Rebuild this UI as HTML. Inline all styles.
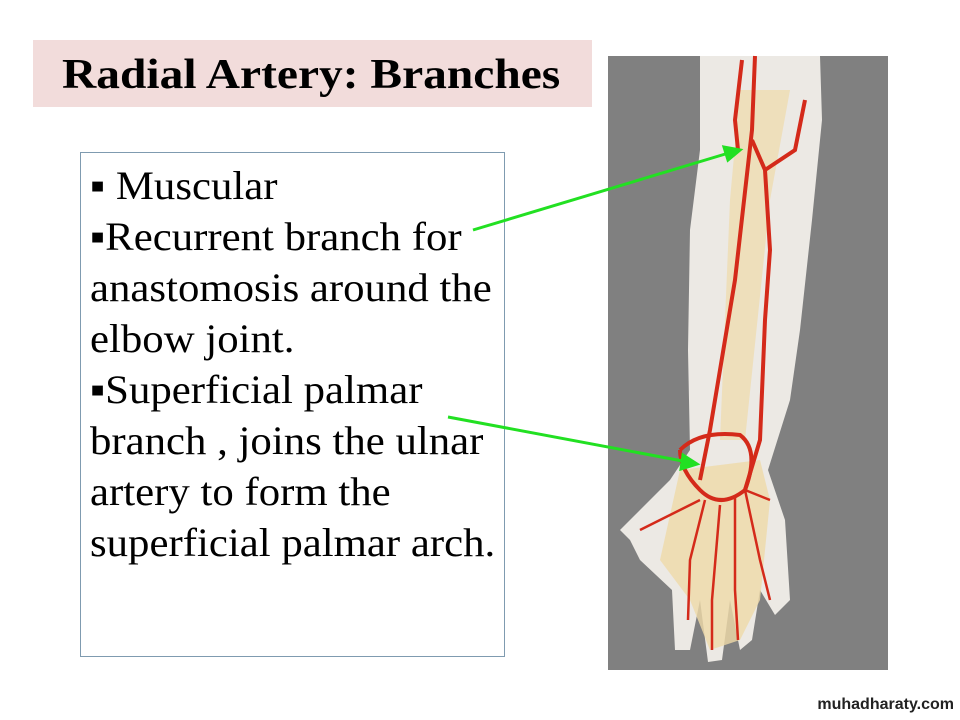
<!DOCTYPE html>
<html><head><style>
body{margin:0;width:960px;height:720px;background:#fff;position:relative;overflow:hidden;font-family:"Liberation Serif",serif}
.title{position:absolute;left:33px;top:40px;width:559px;height:67px;background:#f2dcdb;}
.title span{position:absolute;left:62px;top:0;font-weight:bold;font-size:42px;line-height:70px;transform:scaleX(1.13);transform-origin:0 0;white-space:nowrap;left:29px}
.box{position:absolute;left:80px;top:152px;width:423px;height:503px;border:1px solid #7f9bb0;}
.txt{position:absolute;left:90px;top:160px;font-size:40px;line-height:51px;color:#000;white-space:pre;transform:scaleX(1.07);transform-origin:0 0}
.wm{position:absolute;right:6px;bottom:6px;font-family:"Liberation Sans",sans-serif;font-weight:bold;font-size:16px;color:#222}
</style></head><body>
<div class="title"><span>Radial Artery: Branches</span></div>
<div class="box"></div>
<div class="txt">▪ Muscular
▪Recurrent branch for
anastomosis around the
elbow joint.
▪Superficial palmar
branch , joins the ulnar
artery to form the
superficial palmar arch.</div>
<svg style="position:absolute;left:0;top:0" width="960" height="720">
<rect x="608" y="56" width="280" height="614" fill="#808080"/>
<path d="M700 56 L820 56 L822 120 L812 220 L800 330 L790 400 L768 470 L785 520 L790 600 L775 615 L760 590 L752 640 L740 650 L730 600 L722 660 L708 662 L700 600 L690 650 L675 650 L672 590 L640 560 L630 540 L620 530 L640 510 L670 480 L690 450 L688 350 L690 230 L700 150 Z" fill="#ece9e4"/>
<path d="M740 90 L790 90 L770 200 L745 440 L720 440 L730 200 Z" fill="#efdcb0" opacity="0.8"/>
<path d="M680 470 L760 460 L770 500 L760 600 L740 640 L710 650 L690 600 L660 560 Z" fill="#efd9a8" opacity="0.8"/>
<g stroke="#d42a1a" fill="none" stroke-width="4">
<path d="M755 56 L752 130 L735 280 L710 430 L700 480"/>
<path d="M752 140 L765 170 L770 250 L765 320 L760 440 L745 490"/>
<path d="M742 60 L735 120 L738 150"/>
<path d="M765 170 L795 150 L805 100"/>
<path d="M680 450 Q700 430 740 435 Q760 450 745 490 Q720 510 700 490 Q680 470 680 450"/>
<path stroke-width="2.5" d="M700 500 L640 530 M705 500 L690 560 L688 620 M720 505 L712 600 L712 650 M735 495 L735 590 L738 640 M745 490 L760 560 L770 600 M745 490 L770 500"/>
</g>
<g stroke="#22e022" stroke-width="3" fill="#22e022">
<line x1="473" y1="230" x2="732" y2="152"/>
<polygon points="740,150 724,147 728,160"/>
<line x1="448" y1="417" x2="688" y2="462"/>
<polygon points="697,464 683,455 681,469"/>
</g>
</svg>
<div class="wm">muhadharaty.com</div>
</body></html>
